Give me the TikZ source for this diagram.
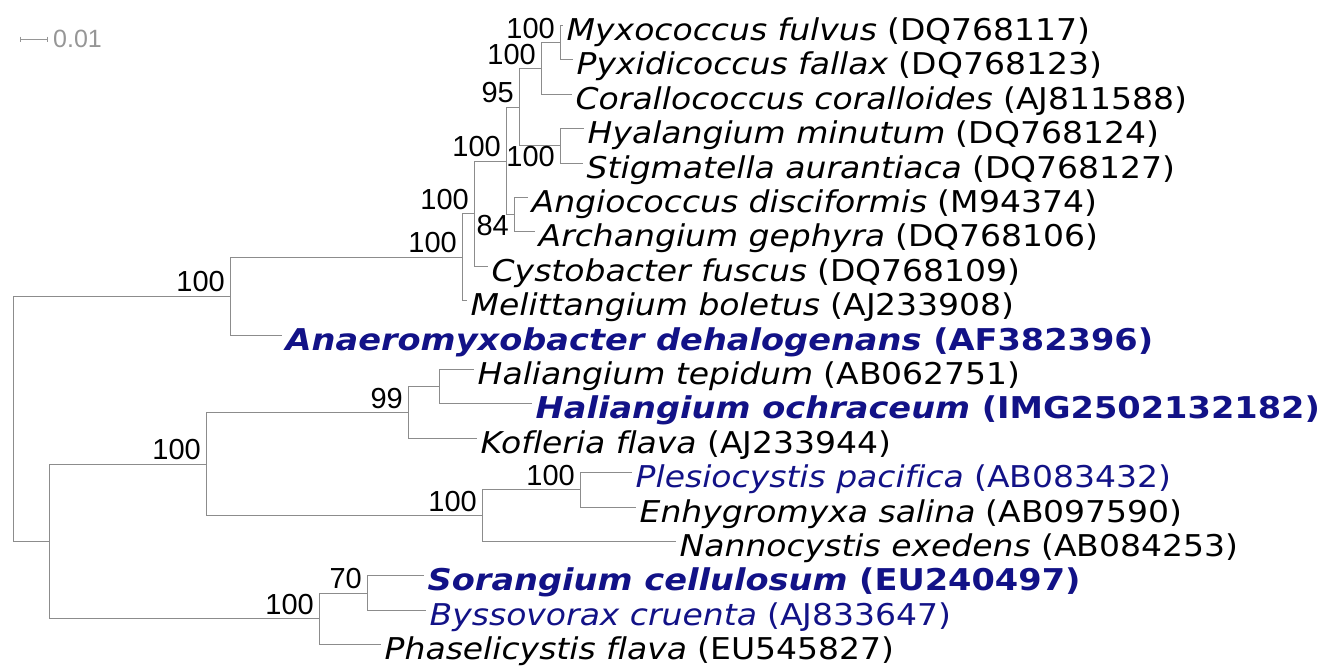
\documentclass[tikz,border=0pt]{standalone}
\usepackage{fontspec}
\newfontfamily\leaffont{DejaVu Sans}[FakeStretch=1.1,Ligatures=NoCommon]
\newfontfamily\leafbold{DejaVu Sans}[FakeStretch=1.12,Ligatures=NoCommon]
\newfontfamily\bsfont{Liberation Sans}
\definecolor{branch}{RGB}{140,140,140}
\definecolor{hl}{RGB}{18,18,135}
\definecolor{sbgray}{RGB}{150,150,150}
\tikzset{
  edge/.style={draw=branch,line width=1pt},
  leaf/.style={anchor=base west,xshift=3.5pt,yshift=-15pt,inner sep=0pt,font=\leaffont\fontsize{30}{32}\selectfont},
  leafb/.style={leaf,font=\leafbold\fontsize{30}{32}\selectfont\bfseries,text=hl},
  leafh/.style={leaf,text=hl},
  bs/.style={anchor=base east,xshift=-5pt,yshift=4.5pt,inner sep=0pt,font=\bsfont\fontsize{29}{30}\selectfont},
  bsb/.style={bs,yshift=-25pt},
}
\begin{document}
\begin{tikzpicture}[x=1pt,y=-1pt]
\useasboundingbox (0,0) rectangle (1323,665);
% leaf ends
\coordinate (myx) at (563,25.5);
\coordinate (pyx) at (573,59.9);
\coordinate (cor) at (572,94.3);
\coordinate (hya) at (584,128.7);
\coordinate (sti) at (583,163.1);
\coordinate (ang) at (528,197.5);
\coordinate (arc) at (535,231.9);
\coordinate (cys) at (488,266.3);
\coordinate (mel) at (467,300.7);
\coordinate (ana) at (282,335.1);
\coordinate (hte) at (474,369.5);
\coordinate (hoc) at (532,403.9);
\coordinate (kof) at (477,438.3);
\coordinate (ple) at (632,472.7);
\coordinate (enh) at (636,507.1);
\coordinate (nan) at (676,541.5);
\coordinate (sor) at (424,575.9);
\coordinate (bys) at (426,610.3);
\coordinate (pha) at (381,644.7);
% internal nodes
\coordinate (G) at (560,42.7);
\coordinate (F) at (541,68.5);
\coordinate (I) at (560,145.9);
\coordinate (E) at (519,107.2);
\coordinate (H) at (514,214.7);
\coordinate (D) at (506,161.0);
\coordinate (C) at (474,213.6);
\coordinate (B) at (462,257.2);
\coordinate (A) at (230,296.1);
\coordinate (M) at (439,386.7);
\coordinate (L) at (408,412.5);
\coordinate (O) at (580,489.9);
\coordinate (N) at (482,515.7);
\coordinate (K) at (206,464.1);
\coordinate (Q) at (367,593.1);
\coordinate (P) at (319,618.9);
\coordinate (J) at (49,541.5);
\coordinate (R) at (13,418.8);
% edges
\draw[edge] (G) |- (myx); \draw[edge] (G) |- (pyx);
\draw[edge] (F) |- (G); \draw[edge] (F) |- (cor);
\draw[edge] (I) |- (hya); \draw[edge] (I) |- (sti);
\draw[edge] (E) |- (F); \draw[edge] (E) |- (I);
\draw[edge] (H) |- (ang); \draw[edge] (H) |- (arc);
\draw[edge] (D) |- (E); \draw[edge] (D) |- (H);
\draw[edge] (C) |- (D); \draw[edge] (C) |- (cys);
\draw[edge] (B) |- (C); \draw[edge] (B) |- (mel);
\draw[edge] (A) |- (B); \draw[edge] (A) |- (ana);
\draw[edge] (M) |- (hte); \draw[edge] (M) |- (hoc);
\draw[edge] (L) |- (M); \draw[edge] (L) |- (kof);
\draw[edge] (O) |- (ple); \draw[edge] (O) |- (enh);
\draw[edge] (N) |- (O); \draw[edge] (N) |- (nan);
\draw[edge] (K) |- (L); \draw[edge] (K) |- (N);
\draw[edge] (Q) |- (sor); \draw[edge] (Q) |- (bys);
\draw[edge] (P) |- (Q); \draw[edge] (P) |- (pha);
\draw[edge] (J) |- (K); \draw[edge] (J) |- (P);
\draw[edge] (R) |- (A); \draw[edge] (R) |- (J);
% leaf labels
\node[leaf] (tmyx) at (myx) {\textit{Myxococcus fulvus} (DQ768117)};
\node[leaf] (tpyx) at (pyx) {\textit{Pyxidicoccus fallax} (DQ768123)};
\node[leaf] (tcor) at (cor) {\textit{Corallococcus coralloides} (AJ811588)};
\node[leaf] (thya) at (hya) {\textit{Hyalangium minutum} (DQ768124)};
\node[leaf] (tsti) at (sti) {\textit{Stigmatella aurantiaca} (DQ768127)};
\node[leaf] (tang) at (ang) {\textit{Angiococcus disciformis} (M94374)};
\node[leaf] (tarc) at (arc) {\textit{Archangium gephyra} (DQ768106)};
\node[leaf] (tcys) at (cys) {\textit{Cystobacter fuscus} (DQ768109)};
\node[leaf] (tmel) at (mel) {\textit{Melittangium boletus} (AJ233908)};
\node[leafb] (tana) at (ana) {\textit{Anaeromyxobacter dehalogenans} (AF382396)};
\node[leaf] (thte) at (hte) {\textit{Haliangium tepidum} (AB062751)};
\node[leafb] (thoc) at (hoc) {\textit{Haliangium ochraceum} (IMG2502132182)};
\node[leaf] (tkof) at (kof) {\textit{Kofleria flava} (AJ233944)};
\node[leafh] (tple) at (ple) {\textit{Plesiocystis pacifica} (AB083432)};
\node[leaf] (tenh) at (enh) {\textit{Enhygromyxa salina} (AB097590)};
\node[leaf] (tnan) at (nan) {\textit{Nannocystis exedens} (AB084253)};
\node[leafb] (tsor) at (sor) {\textit{Sorangium cellulosum} (EU240497)};
\node[leafh] (tbys) at (bys) {\textit{Byssovorax cruenta} (AJ833647)};
\node[leaf] (tpha) at (pha) {\textit{Phaselicystis flava} (EU545827)};
% bootstrap values
\node[bs] (lG) at (G) {100};
\node[bs] (lF) at (F) {100};
\node[bs] (lE) at (E) {95};
\node[bsb] (lI) at (I) {100};
\node[bs] (lD) at (D) {100};
\node[bsb] (lH) at (H) {84};
\node[bs] (lC) at (C) {100};
\node[bs] (lB) at (B) {100};
\node[bs] (lA) at (A) {100};
\node[bs] (lL) at (L) {99};
\node[bs] (lK) at (K) {100};
\node[bs] (lN) at (N) {100};
\node[bs] (lO) at (O) {100};
\node[bs] (lP) at (P) {100};
\node[bs] (lQ) at (Q) {70};
% scale bar
\coordinate (sb1) at (20,39);
\coordinate (sb2) at (47,39);
\draw[draw=sbgray,line width=1pt] (sb1) -- (sb2);
\draw[draw=sbgray,line width=0.8pt] ([yshift=2.5pt]sb1) -- ([yshift=-2.5pt]sb1);
\draw[draw=sbgray,line width=0.8pt] ([yshift=2.5pt]sb2) -- ([yshift=-2.5pt]sb2);
\node[anchor=base west,inner sep=0pt,text=sbgray,font=\bsfont\fontsize{25}{26}\selectfont] (sbl) at (53,47) {0.01};
\end{tikzpicture}
\end{document}
